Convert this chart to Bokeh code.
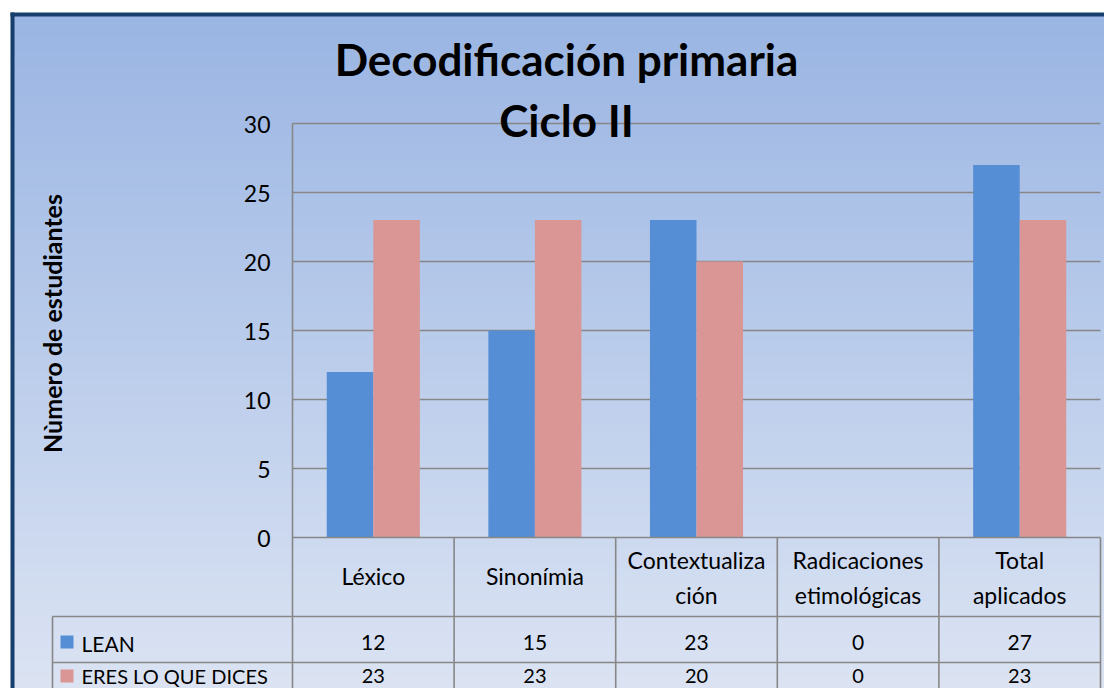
import numpy as np
from bokeh.plotting import figure
from bokeh.models import Range1d
from bokeh.core.properties import value
from bokeh.embed import file_html
from bokeh.resources import INLINE

# ---------------- data ----------------
categories = ["Léxico", "Sinonímia", "Contextualización",
              "Radicaciones etimológicas", "Total aplicados"]
category_lines = [["Léxico"], ["Sinonímia"], ["Contextualiza", "ción"],
                  ["Radicaciones", "etimológicas"], ["Total", "aplicados"]]
series_names = ["LEAN", "ERES LO QUE DICES"]
lean = [12, 15, 23, 0, 27]
eres = [23, 23, 20, 0, 23]
y_ticks = [0, 5, 10, 15, 20, 25, 30]
title_lines = ["Decodificación primaria", "Ciclo II"]
y_label = "Nùmero de estudiantes"

# ---------------- geometry (pixel -> data helpers) ----------------
W, H = 1104, 688
X0, XS = 292.0, 161.6     # pixel x of category 0 left edge, px per category
Y0, YS = 537.0, 13.8      # pixel y of value 0, px per unit
def px_x(x):
    return (x - X0) / XS
def px_y(y):
    return (Y0 - y) / YS

FONT = value("Lato")
p = figure(width=W, height=H, output_backend="svg", toolbar_location=None,
           x_axis_type=None, y_axis_type=None,
           x_range=Range1d(px_x(0), px_x(W)),
           y_range=Range1d(px_y(H), px_y(0)),
           min_border=0, outline_line_color=None,
           background_fill_color="white", border_fill_color="white")
p.grid.visible = False

# ---------------- background gradient ----------------
c_top = np.array([0x9A, 0xB5, 0xE3], float)
c_bot = np.array([0xDC, 0xE4, 0xF3], float)
n = 90
edges = np.linspace(14, 700, n + 1)
cols = []
for i in range(n):
    t = i / (n - 1)
    c = (c_top * (1 - t) + c_bot * t).round().astype(int)
    cols.append("#%02x%02x%02x" % tuple(c))
p.quad(left=px_x(12), right=px_x(1125), top=[px_y(e) for e in edges[:-1]],
       bottom=[px_y(e) for e in edges[1:]], fill_color=cols, line_color=cols,
       line_width=1.2)

# border
bc = "#163F6E"
p.segment(x0=[px_x(12), px_x(10)], y0=[px_y(12), px_y(14)],
          x1=[px_x(12), px_x(1125)], y1=[px_y(700), px_y(14)],
          line_color=bc, line_width=4)

# ---------------- gridlines ----------------
gc = "#878787"
gt = [t for t in y_ticks if t > 0]
p.segment(x0=[0] * len(gt), x1=[px_x(1100)] * len(gt), y0=gt, y1=gt,
          line_color=gc, line_width=1.3)

# ---------------- bars ----------------
ncat = len(categories)
idx = np.arange(ncat) + 0.5
bw = 0.288
p.vbar(x=idx - bw / 2, top=lean, width=bw, bottom=0,
       fill_color="#558ED5", line_color=None)
p.vbar(x=idx + bw / 2, top=eres, width=bw, bottom=0,
       fill_color="#D99694", line_color=None)

# ---------------- table ----------------
row_tops = [537, 616, 662, 708]
tl = 1.6
p.segment(x0=[0], x1=[0], y0=[max(y_ticks)], y1=[px_y(710)], line_color=gc, line_width=tl)
bx = list(range(1, ncat + 1))
p.segment(x0=bx, x1=bx, y0=[0] * len(bx), y1=[px_y(710)] * len(bx),
          line_color=gc, line_width=tl)
p.segment(x0=[px_x(52)], x1=[px_x(52)], y0=[px_y(row_tops[1])], y1=[px_y(710)],
          line_color=gc, line_width=tl)
p.segment(x0=[0], x1=[ncat], y0=[0], y1=[0], line_color=gc, line_width=tl)
p.segment(x0=[px_x(52)] * 3, x1=[ncat] * 3, y0=[px_y(r) for r in row_tops[1:]],
          y1=[px_y(r) for r in row_tops[1:]], line_color=gc, line_width=tl)

# category labels
lx, ly, lt = [], [], []
for i, lines in enumerate(category_lines):
    centers = [575.5] if len(lines) == 1 else [559.5, 594.5]
    for c, s in zip(centers, lines):
        lx.append(i + 0.5); ly.append(px_y(c)); lt.append(s)
p.text(x=lx, y=ly, text=lt, text_font=FONT, text_font_size="23px",
       text_align="center", text_baseline="middle", text_color="black")

# values
p.text(x=idx, y=[px_y(641.5)] * ncat, text=[str(v) for v in lean], text_font=FONT,
       text_font_size="21px", text_align="center", text_baseline="middle",
       text_color="black")
p.text(x=idx, y=[px_y(675)] * ncat, text=[str(v) for v in eres], text_font=FONT,
       text_font_size="20px", text_align="center", text_baseline="middle",
       text_color="black")

# legend keys in table
p.scatter(x=[px_x(66.5)] * 2, y=[px_y(641.5), px_y(675.5)], marker="square", size=13,
          fill_color=["#558ED5", "#D99694"], line_color=None)
p.text(x=[px_x(81), px_x(81)], y=[px_y(642.5), px_y(675)], text=series_names,
       text_font=FONT, text_font_size=["21px", "20px"], text_align="left",
       text_baseline="middle", text_color="black")

# ---------------- y ticks ----------------
p.text(x=[px_x(270)] * len(y_ticks), y=y_ticks, text=[str(t) for t in y_ticks],
       text_font=FONT, text_font_size="23px", text_align="right",
       text_baseline="middle", text_color="black", y_offset=1)

# y axis label
p.text(x=[px_x(51)], y=[px_y(323)], text=[y_label], angle=np.pi / 2,
       text_font=FONT, text_font_size="25px", text_font_style="bold",
       text_align="center", text_baseline="middle", text_color="black")

# title
p.text(x=[px_x(566), px_x(566)], y=[px_y(58), px_y(119)], text=title_lines,
       text_font=FONT, text_font_size="44px", text_font_style="bold",
       text_align="center", text_baseline="middle", text_color="black")

open("out.html", "w").write(file_html(p, INLINE))
